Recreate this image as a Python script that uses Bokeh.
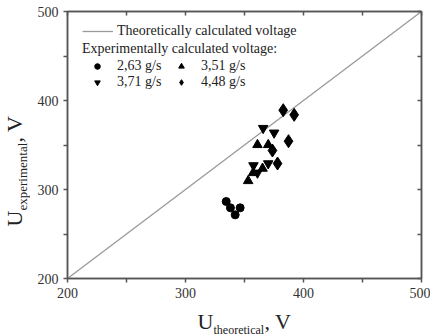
import numpy as np
from bokeh.plotting import figure
from bokeh.layouts import row, column
from bokeh.models import Label, Legend, LegendItem, LinearAxis, FixedTicker, Range1d
from bokeh.embed import file_html
from bokeh.resources import INLINE

# ---- data ----
ideal_x = [200, 500]
ideal_y = [200, 500]

s263_theo = [334.5, 338.1, 342.1, 346.3]
s263_exp = [286.5, 279.4, 271.5, 279.4]
s351_theo = [353.1, 357.3, 361.0, 370.1, 365.3]
s351_exp = [309.7, 318.7, 350.2, 350.2, 323.6]
s371_theo = [365.8, 375.1, 357.6, 361.0, 370.1]
s371_exp = [368.9, 363.7, 327.0, 318.7, 329.2]
s448_theo = [382.8, 392.1, 387.3, 373.7, 378.0]
s448_exp = [389.1, 383.9, 354.3, 343.8, 329.2]

major_ticks = [200, 300, 400, 500]
minor_ticks = [250, 350, 450]

FONT = "Liberation Serif"
AX = "#555555"
TXT = "#222222"
LEG_FS = "14px"

p = figure(width=400, height=306, x_range=Range1d(200, 500), y_range=Range1d(200, 500),
           output_backend="svg", toolbar_location=None,
           min_border_left=37, min_border_right=9, min_border_top=11, min_border_bottom=28)
p.grid.visible = False
p.outline_line_color = AX
p.outline_line_width = 1.5


def style(ax, inside=False):
    ax.ticker = FixedTicker(ticks=major_ticks, minor_ticks=minor_ticks)
    ax.axis_line_color = AX
    ax.axis_line_width = 1.5
    ax.major_tick_line_color = AX
    ax.major_tick_line_width = 1.5
    ax.minor_tick_line_color = AX
    ax.minor_tick_line_width = 1.5
    if inside:
        ax.major_tick_in, ax.major_tick_out = 4, 0
        ax.minor_tick_in, ax.minor_tick_out = 4, 0
        ax.major_label_text_font_size = "1px"
        ax.major_label_text_alpha = 0
        ax.major_label_standoff = 0
    else:
        ax.major_tick_in, ax.major_tick_out = 0, 4
        ax.minor_tick_in, ax.minor_tick_out = 0, 4
        ax.major_label_text_font = FONT
        ax.major_label_text_font_size = "14px"
        ax.major_label_text_color = "#333333"
        ax.major_label_standoff = 5


style(p.xaxis[0])
style(p.yaxis[0])
top = LinearAxis()
right = LinearAxis()
style(top, inside=True)
style(right, inside=True)
p.add_layout(top, "above")
p.add_layout(right, "right")

line = p.line(ideal_x, ideal_y, line_color="#9a9a9a", line_width=1.3)
r1 = p.scatter(s263_theo, s263_exp, marker="circle", size=8, color="black")
r2 = p.scatter(s351_theo, s351_exp, marker="triangle", size=9.5, color="black")
r3 = p.scatter(s371_theo, s371_exp, marker="inverted_triangle", size=9.5, color="black")
r4 = p.scatter(s448_theo, s448_exp, marker="diamond", size=13, color="black")

leg1 = Legend(items=[LegendItem(label="Theoretically calculated voltage", renderers=[line])],
              location=(15, 239.5), margin=0, padding=0, spacing=0,
              glyph_width=31, glyph_height=14, label_height=14, label_standoff=4,
              label_text_font=FONT, label_text_font_size=LEG_FS, label_text_color=TXT,
              border_line_alpha=0, background_fill_alpha=0)
leg2 = Legend(items=[LegendItem(label="2,63 g/s", renderers=[r1]),
                     LegendItem(label="3,71 g/s", renderers=[r3]),
                     LegendItem(label="3,51 g/s", renderers=[r2]),
                     LegendItem(label="4,48 g/s", renderers=[r4])],
              ncols=2,
              title="Experimentally calculated voltage:", title_text_font=FONT,
              title_text_font_size=LEG_FS, title_text_font_style="normal",
              title_text_color=TXT, title_standoff=1,
              location=(15, 188.5), margin=0, padding=0, spacing=0,
              glyph_width=30, glyph_height=14, label_height=14, label_standoff=5, label_width=49,
              label_text_font=FONT, label_text_font_size=LEG_FS, label_text_color=TXT,
              border_line_alpha=0, background_fill_alpha=0)
p.add_layout(leg1)
p.add_layout(leg2)


def label_fig(w, h):
    f = figure(width=w, height=h, x_range=Range1d(0, 1), y_range=Range1d(0, 1),
               output_backend="svg", toolbar_location=None,
               x_axis_type=None, y_axis_type=None,
               min_border_left=0, min_border_right=0, min_border_top=0, min_border_bottom=0)
    f.grid.visible = False
    f.outline_line_color = None
    return f


lab = dict(x_units="screen", y_units="screen", text_font=FONT, text_color=TXT,
           text_baseline="alphabetic")

# x axis title: U_theoretical, V  (frame of this strip is aligned with the plot frame)
xlab = label_fig(400, 30)
xlab.add_layout(Label(x=130, y=15.5, text="U", text_font_size="22px", **lab))
xlab.add_layout(Label(x=146, y=7, text="theoretical", text_font_size="12px", **lab))
xlab.add_layout(Label(x=197, y=15.5, text=", V", text_font_size="22px", **lab))

# y axis title: U_experimental, V
ylab = label_fig(30, 336)
ylab.add_layout(Label(x=13.5, y=110, text="U", text_font_size="22px", angle=np.pi / 2, **lab))
ylab.add_layout(Label(x=21.5, y=126, text="experimental", text_font_size="13px", angle=np.pi / 2, **lab))
ylab.add_layout(Label(x=13.5, y=194, text=", V", text_font_size="22px", angle=np.pi / 2, **lab))

layout = row(ylab, column(p, xlab))

open("out.html", "w").write(file_html(layout, INLINE))
